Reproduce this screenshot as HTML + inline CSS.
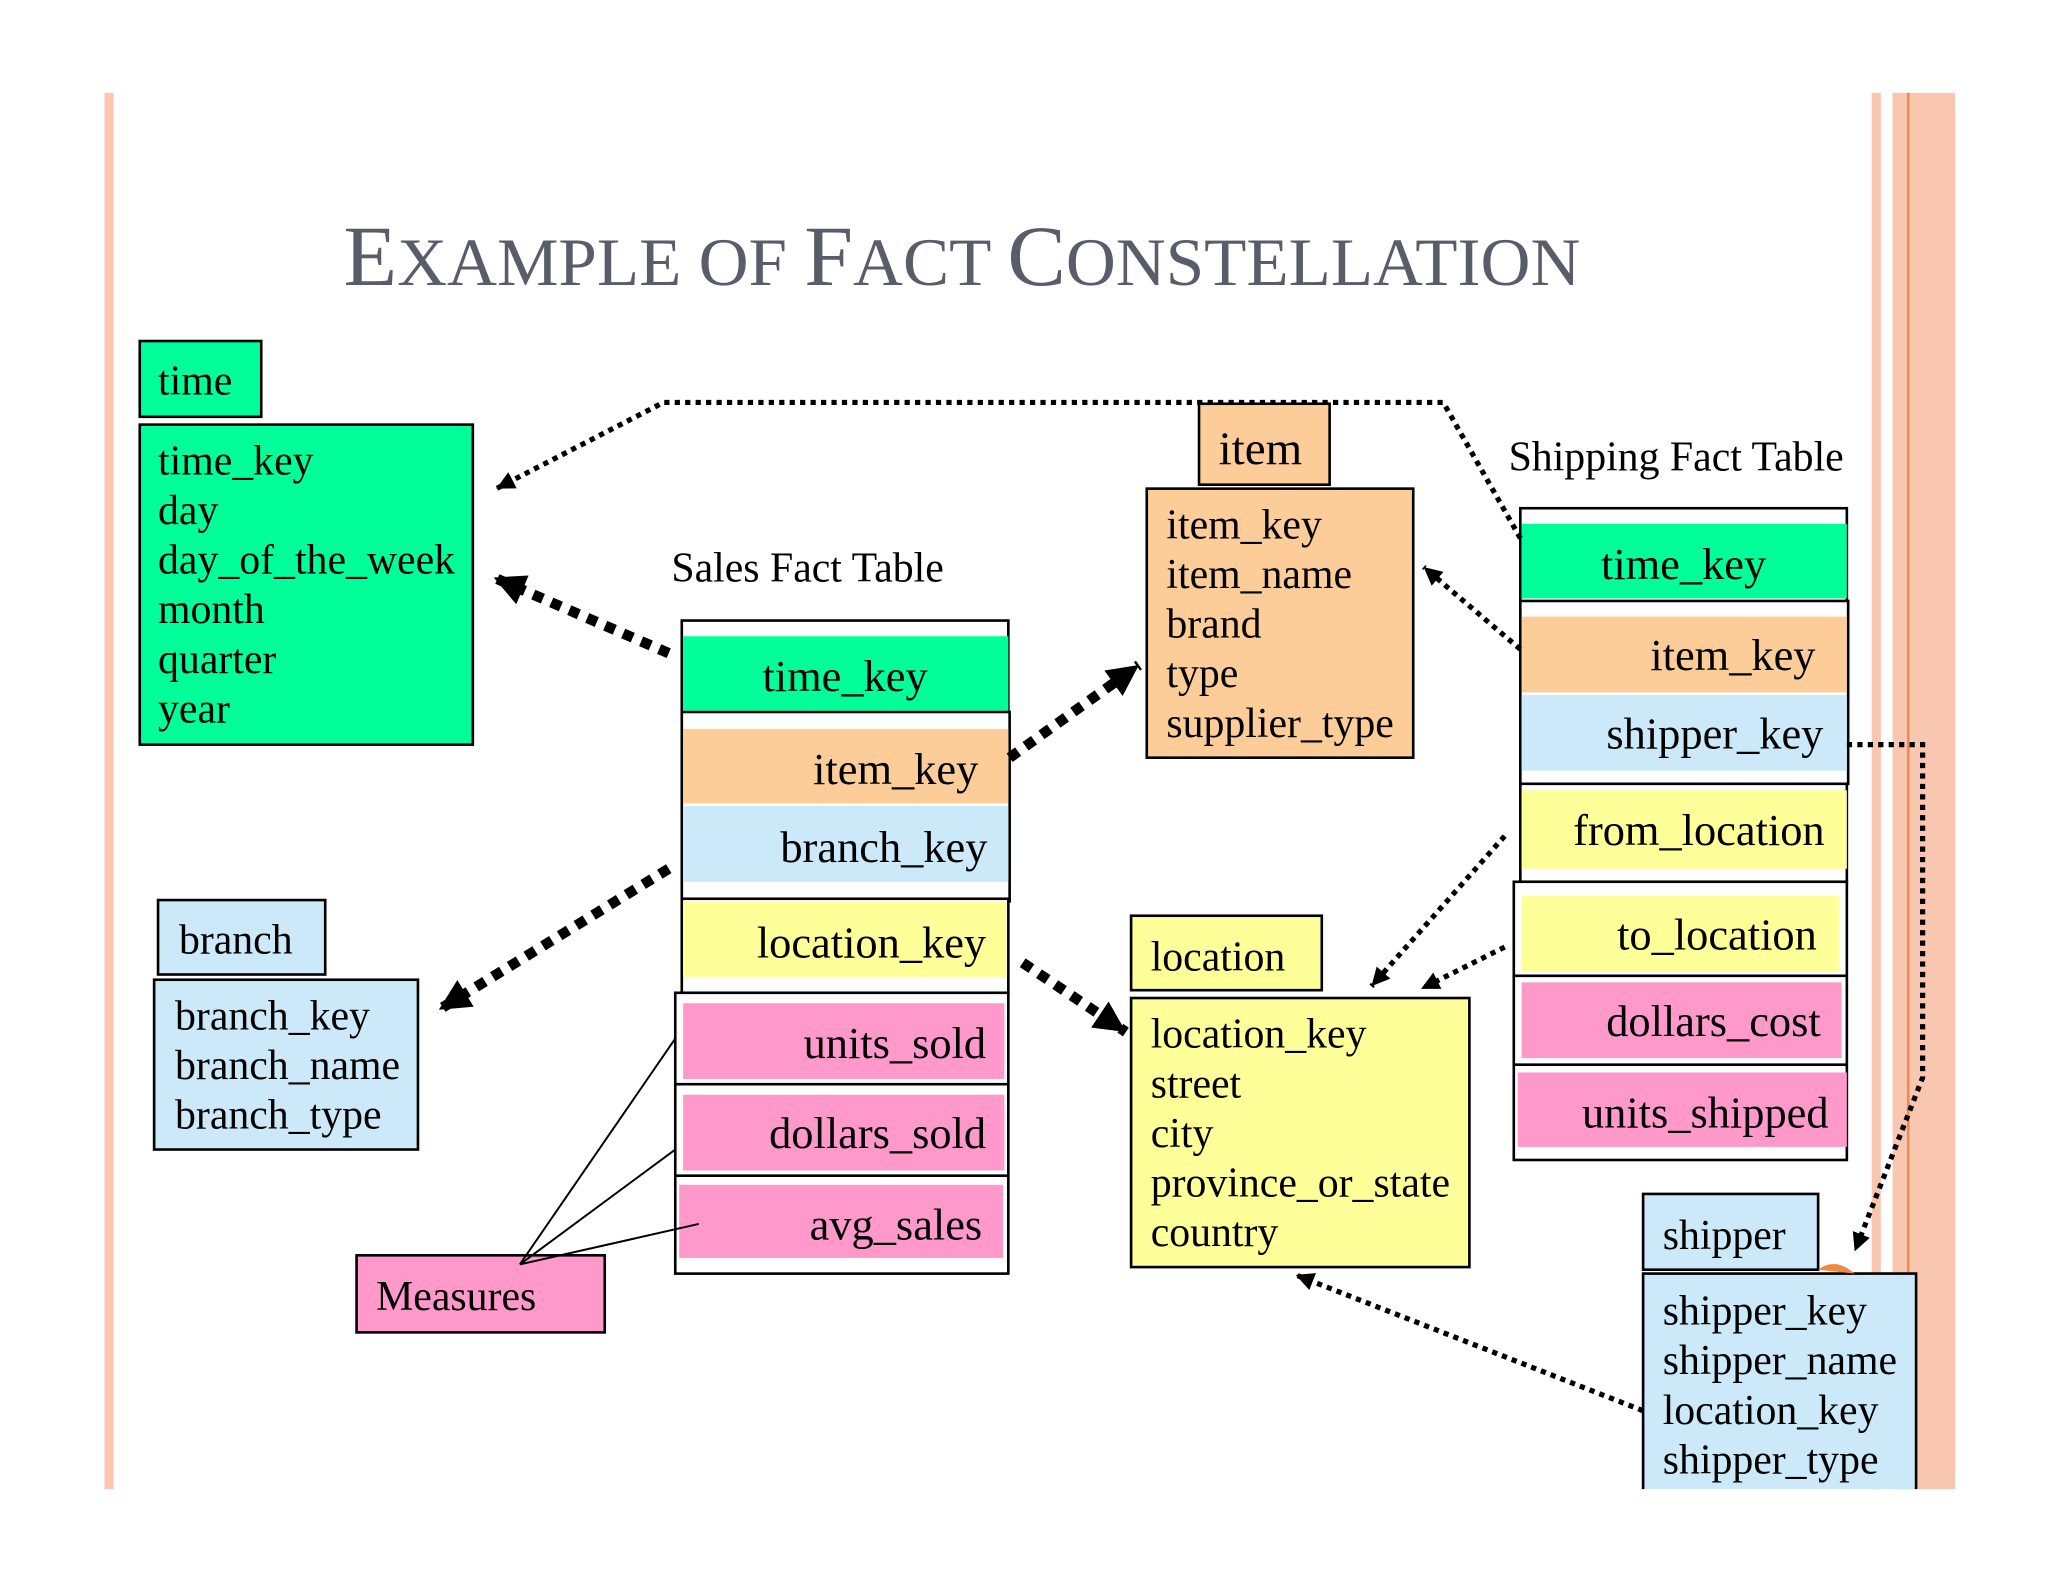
<!DOCTYPE html>
<html><head><meta charset="utf-8"><style>
html,body{margin:0;padding:0;background:#fff;}
svg{display:block;}
text{font-family:"Liberation Serif",serif;fill:#000;}
.b{font-size:32px;}
.k{font-size:34px;}
</style></head><body>
<svg width="2048" height="1582" viewBox="0 0 1568 1211" xmlns="http://www.w3.org/2000/svg">
<defs>
<marker id="a" viewBox="0 0 10 10" refX="9" refY="5" markerWidth="5" markerHeight="5" orient="auto-start-reverse" markerUnits="userSpaceOnUse" style="overflow:visible">
<path d="M0,0 L10,5 L0,10 z" fill="#000" transform="scale(1.6) translate(-4,-1.9)"/>
</marker>
<marker id="t" viewBox="0 0 10 10" refX="10" refY="5" markerWidth="14" markerHeight="14" orient="auto" markerUnits="userSpaceOnUse"><path d="M0,0 L10,5 L0,10 z" fill="#000"/></marker>
<marker id="T" viewBox="0 0 10 10" refX="10" refY="5" markerWidth="24" markerHeight="24" orient="auto" markerUnits="userSpaceOnUse"><path d="M0,0 L10,5 L0,10 z" fill="#000"/></marker>
</defs>
<rect width="1568" height="1211" fill="#fff"/>
<!-- stripes -->
<rect x="80" y="71" width="7" height="1069" fill="#f9c6b0"/>
<rect x="1433" y="71" width="7" height="1069" fill="#f9c6b0"/>
<rect x="1449" y="71" width="48" height="1069" fill="#f9c6b0"/>
<rect x="1460" y="71" width="2" height="1069" fill="#f08a50"/>
<!-- title -->
<text x="263" y="218" fill="#585d69" style="fill:#585d69" textLength="947" lengthAdjust="spacingAndGlyphs"><tspan font-size="66">E</tspan><tspan font-size="52">XAMPLE OF </tspan><tspan font-size="66">F</tspan><tspan font-size="52">ACT </tspan><tspan font-size="66">C</tspan><tspan font-size="52">ONSTELLATION</tspan></text>

<g stroke="#000" stroke-width="2">
<!-- time -->
<rect x="107" y="261" width="93" height="58" fill="#00ff99"/>
<rect x="107" y="325" width="255" height="245" fill="#00ff99"/>
<!-- item -->
<rect x="918" y="309" width="100" height="62" fill="#fccc99"/>
<rect x="878" y="374" width="204" height="206" fill="#fccc99"/>
<!-- branch -->
<rect x="121" y="689" width="128" height="57" fill="#cce9f9"/>
<rect x="118" y="750" width="202" height="130" fill="#cce9f9"/>
<!-- location -->
<rect x="866" y="701" width="146" height="57" fill="#ffff99"/>
<rect x="866" y="764" width="259" height="206" fill="#ffff99"/>
<!-- measures -->
<rect x="273" y="961" width="190" height="59" fill="#ff99cc"/>
<!-- shipper -->
<rect x="1258" y="914" width="134" height="58" fill="#cce9f9"/>
<path d="M1258,1140 V975 H1467 V1140" fill="#cce9f9"/>
<!-- sales fact outlines -->
<rect x="522" y="475" width="250" height="72" fill="#fff"/>
<rect x="522" y="545" width="251" height="145" fill="#fff"/>
<rect x="522" y="688" width="250" height="72" fill="#fff"/>
<rect x="517" y="760" width="255" height="215" fill="#fff"/>
<line x1="517" y1="830" x2="772" y2="830"/>
<line x1="517" y1="900" x2="772" y2="900"/>
<!-- shipping outlines -->
<rect x="1164" y="389" width="250" height="72" fill="#fff"/>
<rect x="1164" y="460" width="251" height="140" fill="#fff"/>
<rect x="1164" y="600" width="250" height="75" fill="#fff"/>
<rect x="1159" y="675" width="255" height="213" fill="#fff"/>
<line x1="1159" y1="747" x2="1414" y2="747"/>
<line x1="1159" y1="815" x2="1414" y2="815"/>
</g>
<path d="M1392,972 Q1405,962 1420,975 Z" fill="#f08a40"/>
<!-- sales fills -->
<rect x="523" y="487" width="249" height="57" fill="#00ff99"/>
<rect x="523" y="558" width="249" height="57" fill="#fccc99"/>
<rect x="523" y="617" width="249" height="58" fill="#cce9f9"/>
<rect x="523" y="690" width="248" height="58" fill="#ffff99"/>
<rect x="523" y="768" width="246" height="58" fill="#ff99cc"/>
<rect x="523" y="838" width="246" height="58" fill="#ff99cc"/>
<rect x="520" y="907" width="248" height="56" fill="#ff99cc"/>
<!-- shipping fills -->
<rect x="1165" y="401" width="249" height="57" fill="#00ff99"/>
<rect x="1165" y="472" width="249" height="58" fill="#fccc99"/>
<rect x="1165" y="532" width="249" height="58" fill="#cce9f9"/>
<rect x="1165" y="605" width="249" height="60" fill="#ffff99"/>
<rect x="1165" y="686" width="243" height="58" fill="#ffff99"/>
<rect x="1165" y="752" width="245" height="58" fill="#ff99cc"/>
<rect x="1162" y="821" width="252" height="57" fill="#ff99cc"/>

<!-- texts -->
<text class="b" x="121" y="302">time</text>
<g class="b"><text x="121" y="363">time_key</text><text x="121" y="401">day</text><text x="121" y="439">day_of_the_week</text><text x="121" y="477">month</text><text x="121" y="515">quarter</text><text x="121" y="553">year</text></g>
<text class="b" x="514" y="445">Sales Fact Table</text>
<text class="k" x="647" y="529" text-anchor="middle">time_key</text>
<text class="k" x="749" y="600" text-anchor="end">item_key</text>
<text class="k" x="756" y="660" text-anchor="end">branch_key</text>
<text class="k" x="755" y="733" text-anchor="end">location_key</text>
<text class="k" x="755" y="810" text-anchor="end">units_sold</text>
<text class="k" x="755" y="879" text-anchor="end">dollars_sold</text>
<text class="k" x="752" y="949" text-anchor="end">avg_sales</text>
<text x="933" y="355" font-size="36">item</text>
<g class="b"><text x="893" y="412">item_key</text><text x="893" y="450">item_name</text><text x="893" y="488">brand</text><text x="893" y="526">type</text><text x="893" y="564">supplier_type</text></g>
<text class="b" x="1155" y="360">Shipping Fact Table</text>
<text class="k" x="1289" y="443" text-anchor="middle">time_key</text>
<text class="k" x="1390" y="513" text-anchor="end">item_key</text>
<text class="k" x="1396" y="573" text-anchor="end">shipper_key</text>
<text class="k" x="1397" y="647" text-anchor="end">from_location</text>
<text class="k" x="1391" y="727" text-anchor="end">to_location</text>
<text class="k" x="1394" y="793" text-anchor="end">dollars_cost</text>
<text class="k" x="1400" y="863" text-anchor="end">units_shipped</text>
<text class="b" x="137" y="730">branch</text>
<g class="b"><text x="134" y="788">branch_key</text><text x="134" y="826">branch_name</text><text x="134" y="864">branch_type</text></g>
<text class="b" x="881" y="743">location</text>
<g class="b"><text x="881" y="802">location_key</text><text x="881" y="840">street</text><text x="881" y="878">city</text><text x="881" y="916">province_or_state</text><text x="881" y="954">country</text></g>
<text class="b" x="288" y="1003">Measures</text>
<text class="b" x="1273" y="956">shipper</text>
<g class="b"><text x="1273" y="1014">shipper_key</text><text x="1273" y="1052">shipper_name</text><text x="1273" y="1090">location_key</text><text x="1273" y="1128">shipper_type</text></g>

<!-- measure lines -->
<g stroke="#000" stroke-width="1.5" fill="none">
<path d="M398,968 L517,795 M398,968 L517,880 M398,968 L535,937"/>
</g>
<!-- thin dotted connectors -->
<g stroke="#000" stroke-width="4" fill="none" stroke-dasharray="4 4">
<path d="M1164,412 L1105,308 L508,308 L380,374" marker-end="url(#t)"/>
<path d="M1164,497 L1090,434" marker-end="url(#t)"/>
<path d="M1152,640 L1050,755" marker-end="url(#t)"/>
<path d="M1152,725 L1088,757" marker-end="url(#t)"/>
<path d="M1414,570 L1472,570 L1472,825 L1420,958" marker-end="url(#t)"/>
<path d="M1258,1080 L992,976" marker-end="url(#t)"/>
</g>
<!-- thick dashed connectors -->
<g stroke="#000" stroke-width="8" fill="none" stroke-dasharray="8 7">
<path d="M512,500 L378,442" marker-end="url(#T)"/>
<path d="M773,580 L872,509" marker-end="url(#T)"/>
<path d="M512,665 L336,773" marker-end="url(#T)"/>
<path d="M783,737 L862,790" marker-end="url(#T)"/>
</g>
</svg>
</body></html>
